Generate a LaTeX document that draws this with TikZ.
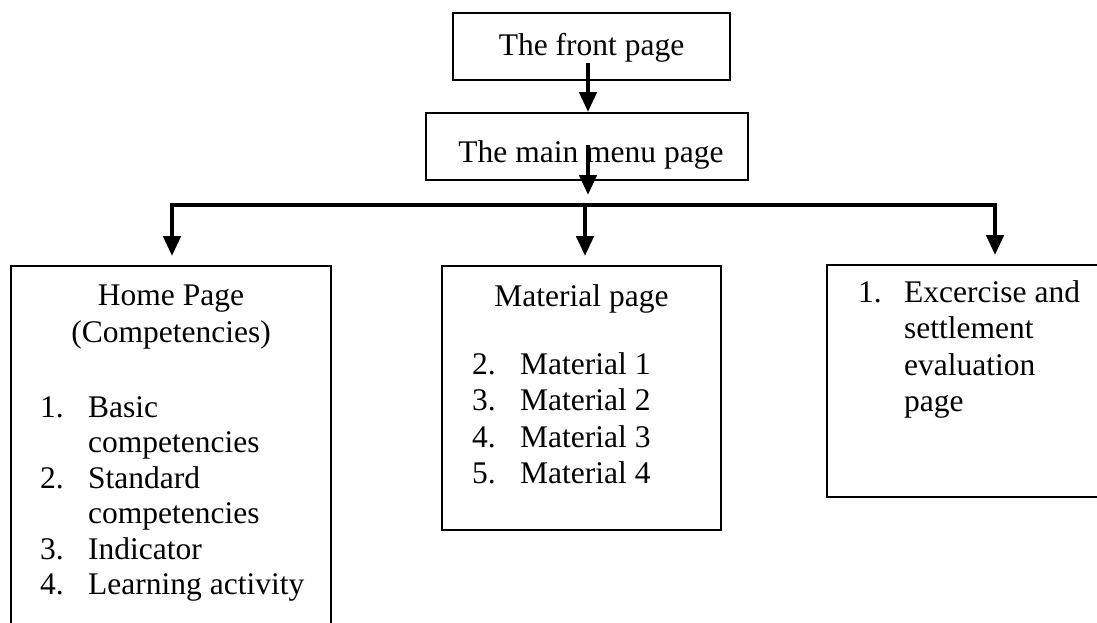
\documentclass[tikz,border=0pt]{standalone}
\usepackage{fontspec}
\setmainfont{Liberation Serif}
\usetikzlibrary{arrows.meta}
\begin{document}
\begin{tikzpicture}[x=1pt,y=-1pt,
  box/.style={draw,line width=1.9pt,inner sep=0pt},
  txt/.style={inner sep=0pt,font=\fontsize{31.5}{36}\selectfont},
  arr/.style={line width=4.5pt,line join=miter,-{Triangle[width=17pt,length=20pt]}}]
\clip (0,0) rectangle (1097,622);
% boxes
\node[box,minimum width=277pt,minimum height=67pt] (front) at (591.5,46.5) {};
\node[box,minimum width=322pt,minimum height=67pt] (menu) at (587,146.5) {};
\node[box,minimum width=320pt,minimum height=434pt] (home) at (171,483) {};
\node[box,minimum width=279pt,minimum height=264pt] (mat) at (581.5,398) {};
\node[box,minimum width=293pt,minimum height=232pt] (eval) at (973.5,381) {};
% texts
\node[txt,anchor=base] (tfront) at (591.5,55) {The front page};
\node[txt,anchor=base] (tmenu) at (591,162) {The main menu page};
\node[txt,anchor=base] (thome) at (171,305) {Home Page};
\node[txt,anchor=base] (tcomp) at (171,342) {(Competencies)};
\node[txt,anchor=base west] (h1n) at (40,417) {1.};
\node[txt,anchor=base west] (h1) at (88,417) {Basic};
\node[txt,anchor=base west] (h1b) at (88,452.5) {competencies};
\node[txt,anchor=base west] (h2n) at (40,488) {2.};
\node[txt,anchor=base west] (h2) at (88,488) {Standard};
\node[txt,anchor=base west] (h2b) at (88,523.5) {competencies};
\node[txt,anchor=base west] (h3n) at (40,559) {3.};
\node[txt,anchor=base west] (h3) at (88,559) {Indicator};
\node[txt,anchor=base west] (h4n) at (40,594.5) {4.};
\node[txt,anchor=base west] (h4) at (88,594.5) {Learning activity};
\node[txt,anchor=base] (tmat) at (581.5,306) {Material page};
\node[txt,anchor=base west] (m2n) at (472,374) {2.};
\node[txt,anchor=base west] (m2) at (520,374) {Material 1};
\node[txt,anchor=base west] (m3n) at (472,410.5) {3.};
\node[txt,anchor=base west] (m3) at (520,410.5) {Material 2};
\node[txt,anchor=base west] (m4n) at (472,447) {4.};
\node[txt,anchor=base west] (m4) at (520,447) {Material 3};
\node[txt,anchor=base west] (m5n) at (472,483.5) {5.};
\node[txt,anchor=base west] (m5) at (520,483.5) {Material 4};
\node[txt,anchor=base west] (e1n) at (858,302) {1.};
\node[txt,anchor=base west] (e1) at (904,302) {Excercise and};
\node[txt,anchor=base west] (e1b) at (904,338.5) {settlement};
\node[txt,anchor=base west] (e1c) at (904,375) {evaluation};
\node[txt,anchor=base west] (e1d) at (904,411.5) {page};
% connectors
\coordinate (in2) at (588,195);
\coordinate (busL) at (172,205);
\coordinate (busM) at (585,205);
\coordinate (busR) at (995,205);
\draw[arr] ([yshift=-16.5pt]front.center -| in2) -- (menu.north -| in2);
\draw[arr] (in2 |- 0,145) -- (in2);
\draw[arr,shorten >=9pt] (busM) -- (busL) -- (busL |- home.north);
\draw[arr,shorten >=9pt] (busM) -- (busM |- mat.north);
\draw[arr,shorten >=9pt] (busM) -- (busR) -- (busR |- eval.north);
\end{tikzpicture}
\end{document}
